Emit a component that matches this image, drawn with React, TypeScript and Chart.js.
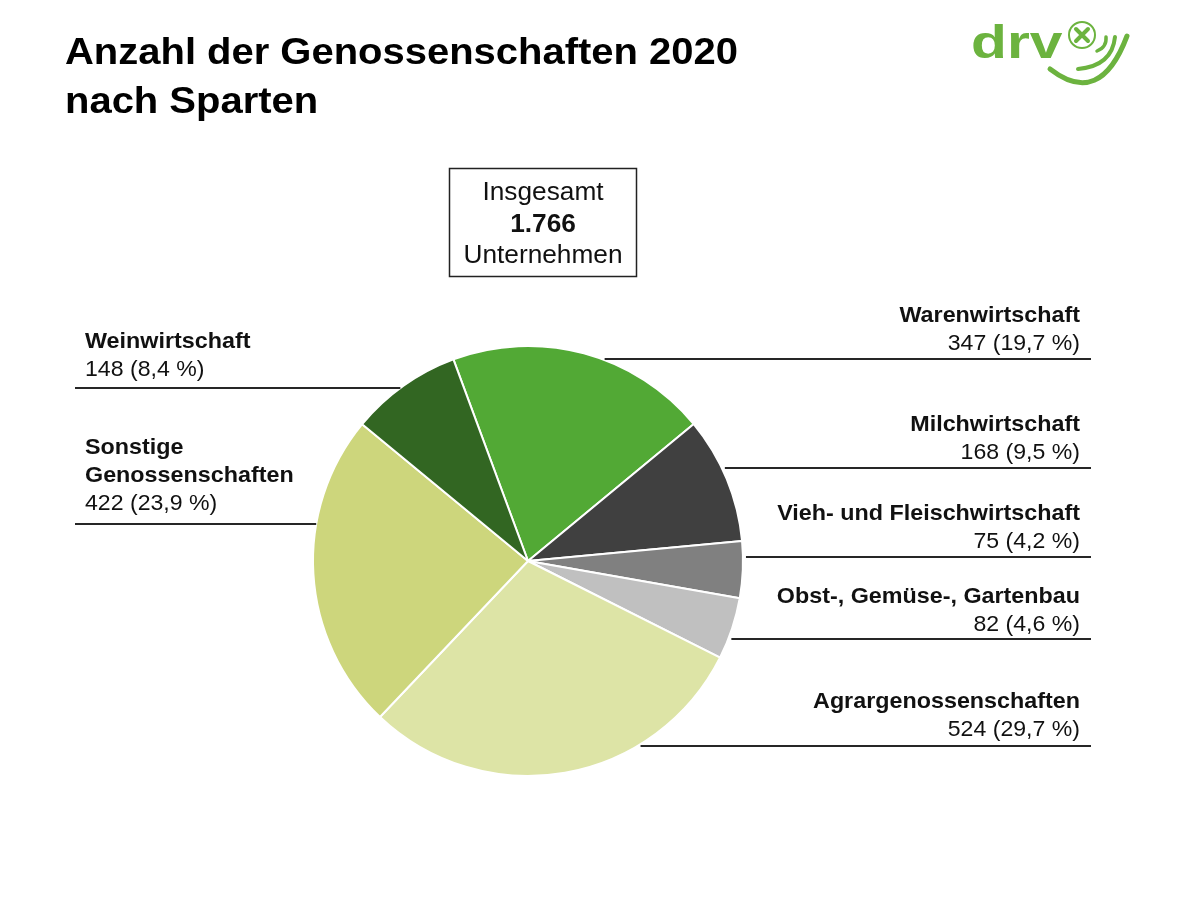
import React, { useEffect, useRef } from "react";
import { Chart, registerables } from "chart.js";

Chart.register(...registerables);

// ---- data ----
const categories = [
  "Warenwirtschaft",
  "Milchwirtschaft",
  "Vieh- und Fleischwirtschaft",
  "Obst-, Gemüse-, Gartenbau",
  "Agrargenossenschaften",
  "Sonstige Genossenschaften",
  "Weinwirtschaft",
];
const values = [347, 168, 75, 82, 524, 422, 148];
const shares = ["19,7", "9,5", "4,2", "4,6", "29,7", "23,9", "8,4"];
const sliceColors = ["#52a935", "#404040", "#808080", "#c0c0c0", "#dde4a6", "#cdd67c", "#326622"];
const titleLines = ["Anzahl der Genossenschaften 2020", "nach Sparten"];
const totalLines = ["Insgesamt", "1.766", "Unternehmen"];

// ---- label layout (positions only) ----
type Lay = { side: "left" | "right"; name: string[]; base: number; line: number };
const labelLayout: Lay[] = [
  { side: "right", name: ["Warenwirtschaft"], base: 322, line: 359 },
  { side: "right", name: ["Milchwirtschaft"], base: 431, line: 468 },
  { side: "right", name: ["Vieh- und Fleischwirtschaft"], base: 520, line: 557 },
  { side: "right", name: ["Obst-, Gemüse-, Gartenbau"], base: 603, line: 639 },
  { side: "right", name: ["Agrargenossenschaften"], base: 708, line: 746 },
  { side: "left", name: ["Sonstige", "Genossenschaften"], base: 454, line: 524 },
  { side: "left", name: ["Weinwirtschaft"], base: 348, line: 388 },
];

const FONT = '"Liberation Sans", Arial, Helvetica, sans-serif';

function txt(
  ctx: CanvasRenderingContext2D,
  s: string,
  x: number,
  y: number,
  font: string,
  align: CanvasTextAlign,
  sx = 1,
  color = "#000"
) {
  ctx.save();
  ctx.font = font;
  ctx.fillStyle = color;
  ctx.textBaseline = "alphabetic";
  ctx.textAlign = align;
  ctx.translate(x, y);
  ctx.scale(sx, 1);
  ctx.fillText(s, 0, 0);
  ctx.restore();
}

const decorPlugin = {
  id: "decor",
  afterDraw(chart: any) {
    const ctx: CanvasRenderingContext2D = chart.ctx;
    const arc = chart.getDatasetMeta(0).data[0] as any;
    const cx = arc.x;
    const cy = arc.y;
    const r = arc.outerRadius;

    // title
    txt(ctx, titleLines[0], 65, 64, `bold 37px ${FONT}`, "left", 1.08);
    txt(ctx, titleLines[1], 65, 113, `bold 37px ${FONT}`, "left", 1.08);

    // total box
    ctx.save();
    ctx.strokeStyle = "#222";
    ctx.lineWidth = 1.5;
    ctx.strokeRect(449.5, 168.5, 187, 108);
    ctx.restore();
    txt(ctx, totalLines[0], 543, 200, `25px ${FONT}`, "center", 1.05, "#111");
    txt(ctx, totalLines[1], 543, 232, `bold 25px ${FONT}`, "center", 1.05, "#111");
    txt(ctx, totalLines[2], 543, 263, `25px ${FONT}`, "center", 1.05, "#111");

    // labels
    labelLayout.forEach((lay, i) => {
      const right = lay.side === "right";
      const tx = right ? 1080 : 85;
      const align: CanvasTextAlign = right ? "right" : "left";
      lay.name.forEach((n, k) => {
        txt(ctx, n, tx, lay.base + k * 28, `bold 22px ${FONT}`, align, 1.06, "#111");
      });
      const vb = lay.base + lay.name.length * 28;
      txt(ctx, `${values[i]} (${shares[i]} %)`, tx, vb, `22px ${FONT}`, align, 1.05, "#111");
      const dy = lay.line - cy;
      const dx = Math.abs(dy) < r ? Math.sqrt(r * r - dy * dy) : 0;
      ctx.save();
      ctx.strokeStyle = "#262626";
      ctx.lineWidth = 2;
      ctx.beginPath();
      if (right) {
        ctx.moveTo(cx + dx + 3, lay.line);
        ctx.lineTo(1091, lay.line);
      } else {
        ctx.moveTo(75, lay.line);
        ctx.lineTo(cx - dx, lay.line);
      }
      ctx.stroke();
      ctx.restore();
    });

    // logo
    const g = "#6cb33f";
    txt(ctx, "drv", 971, 58, `bold 47px ${FONT}`, "left", 1.25, g);
    ctx.save();
    ctx.strokeStyle = g;
    ctx.lineWidth = 2;
    ctx.beginPath();
    ctx.arc(1082, 35, 13, 0, Math.PI * 2);
    ctx.stroke();
    ctx.lineWidth = 4;
    ctx.lineCap = "round";
    ctx.beginPath();
    ctx.moveTo(1076, 29);
    ctx.lineTo(1088, 41);
    ctx.moveTo(1088, 29);
    ctx.lineTo(1076, 41);
    ctx.stroke();
    ctx.lineWidth = 5;
    ctx.beginPath();
    ctx.moveTo(1050, 69);
    ctx.quadraticCurveTo(1100, 108, 1127, 36);
    ctx.stroke();
    ctx.lineWidth = 4;
    ctx.beginPath();
    ctx.moveTo(1078, 69);
    ctx.quadraticCurveTo(1112, 66, 1115, 37);
    ctx.stroke();
    ctx.lineWidth = 3.5;
    ctx.beginPath();
    ctx.moveTo(1097, 51);
    ctx.quadraticCurveTo(1107, 47, 1106, 37);
    ctx.stroke();
    ctx.restore();
  },
};

export default function App() {
  const ref = useRef<HTMLCanvasElement | null>(null);
  useEffect(() => {
    if (!ref.current) return;
    const chart = new Chart(ref.current, {
      type: "pie",
      data: {
        labels: categories,
        datasets: [
          {
            data: values,
            backgroundColor: sliceColors,
            borderColor: "#ffffff",
            borderWidth: 2,
          },
        ],
      },
      options: {
        responsive: false,
        animation: false,
        rotation: -20.3,
        layout: { padding: { left: 312, right: 456, top: 345, bottom: 123 } },
        plugins: {
          legend: { display: false },
          tooltip: { enabled: false },
          title: { display: false },
        },
      },
      plugins: [decorPlugin],
    });
    return () => chart.destroy();
  }, []);
  return (
    <div style={{ position: "absolute", left: 0, top: 0, width: 1200, height: 900, background: "#fff" }}>
      <canvas ref={ref} width={1200} height={900} style={{ width: 1200, height: 900, display: "block" }} />
    </div>
  );
}
